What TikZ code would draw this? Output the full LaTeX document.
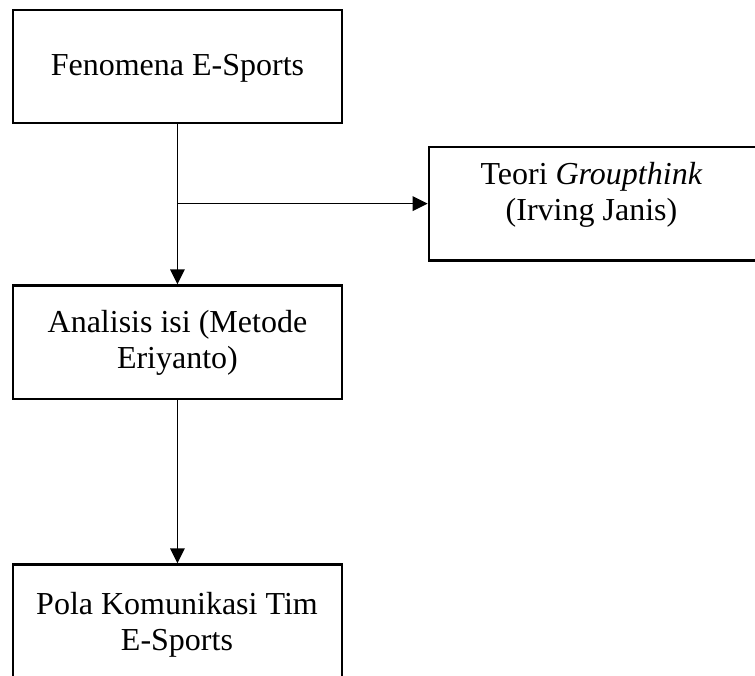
\documentclass[tikz,border=0pt]{standalone}
\usepackage{fontspec}
\setmainfont{Liberation Serif}
\usetikzlibrary{arrows.meta}
\begin{document}
\begin{tikzpicture}[x=1pt,y=-1pt,
  boxnode/.style={draw=black,line width=2.2pt,rectangle,inner sep=0pt,anchor=north west},
  txt/.style={font=\fontsize{32}{36}\selectfont,align=center,inner sep=0pt},
  conn/.style={draw=black,line width=1.5pt,-{Triangle[length=15pt,width=14.5pt]}},
  line/.style={draw=black,line width=1.5pt}]
\useasboundingbox (0,0) rectangle (755,675);
\node[boxnode,minimum width=328.7pt,minimum height=112.7pt] (b1) at (12,9) {};
\node[txt] at ([yshift=-2pt]b1.center) {Fenomena E-Sports};
\node[boxnode,minimum width=328pt,minimum height=113.6pt] (b2) at (427.7,145.7) {};
\node[txt,anchor=base] (t2) at (591.5,220) {Teori \textit{Groupthink}\\(Irving Janis)};
\node[boxnode,minimum width=328.7pt,minimum height=113.4pt] (b3) at (12,284.3) {};
\node[txt] at ([yshift=-1pt]b3.center) {Analisis isi (Metode\\Eriyanto)};
\node[boxnode,minimum width=328.7pt,minimum height=120pt] (b4) at (12,563.3) {};
\node[txt,anchor=base] (t4) at (177,650) {Pola Komunikasi Tim\\E-Sports};
\coordinate (br) at (b1.south |- b2.west);
\draw[line] (b1.south) -- (br);
\draw[conn] (br) -- (b3.north);
\draw[conn] (br) -- (b2.west);
\draw[conn] (b3.south) -- (b4.north);
\end{tikzpicture}
\end{document}
